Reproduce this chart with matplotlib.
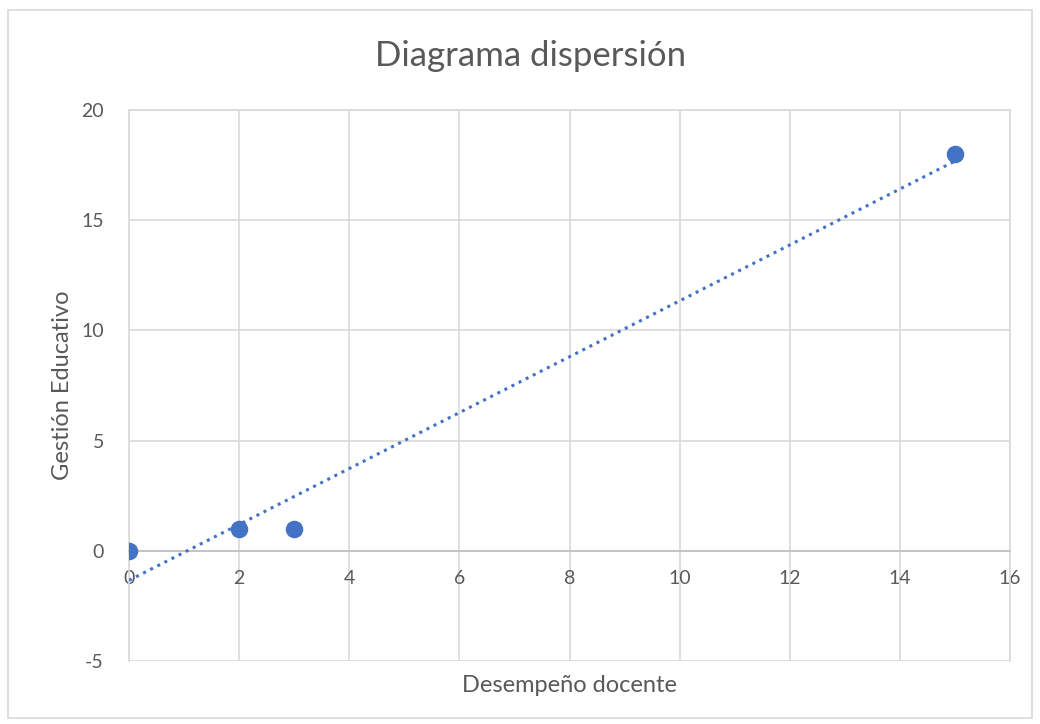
import matplotlib.pyplot as plt
import numpy as np

# datos
desempeno = [0, 2, 3, 15]
gestion = [0, 1, 1, 18]
xticks = [0, 2, 4, 6, 8, 10, 12, 14, 16]
yticks = [-5, 0, 5, 10, 15, 20]

plt.rcParams['font.family'] = ['Lato', 'DejaVu Sans']
plt.rcParams['axes.unicode_minus'] = False

fig = plt.figure(figsize=(10.4, 7.24), dpi=100)
ax = fig.add_axes([129/1040, 1 - 661/724, (1010 - 129)/1040, (661 - 110)/724])

# borde del grafico
fig.patches.append(plt.Rectangle((8/1040, 1 - 718/724), 1024/1040, 708/724,
                                 transform=fig.transFigure, fill=False,
                                 edgecolor='#d9d9d9', linewidth=1.2))

# linea de tendencia lineal
m, b = np.polyfit(desempeno, gestion, 1)
xt = np.array([min(desempeno), max(desempeno)])
ax.plot(xt, m * xt + b, linestyle=(0, (1, 1.6)), color='#4472C4', linewidth=2.2,
        zorder=3)

ax.scatter(desempeno, gestion, s=135, color='#4472C4', zorder=4)

ax.set_xlim(0, 16)
ax.set_ylim(-5, 20)
ax.set_xticks(xticks)
ax.set_yticks(yticks)
ax.grid(True, color='#d9d9d9', linewidth=1.2)
ax.set_axisbelow(True)

for s in ['left', 'top', 'right']:
    ax.spines[s].set_color('#d9d9d9')
    ax.spines[s].set_linewidth(1.2)
ax.spines['bottom'].set_position(('data', 0))
ax.spines['bottom'].set_color('#bfbfbf')
ax.spines['bottom'].set_linewidth(1.2)

ax.tick_params(length=0, labelsize=14, labelcolor='#595959')
ax.tick_params(axis='x', pad=14)
ax.tick_params(axis='y', pad=18)

fig.text(531/1040, 1 - 56/724, 'Diagrama dispersión', fontsize=25,
         color='#595959', ha='center', va='center')
ax.set_xlabel('Desempeño docente', fontsize=17, color='#595959')
ax.xaxis.set_label_coords(0.5, -0.025)
ax.set_ylabel('Gestión Educativo', fontsize=17, color='#595959', labelpad=6)

fig.savefig('out.png', dpi=100)
